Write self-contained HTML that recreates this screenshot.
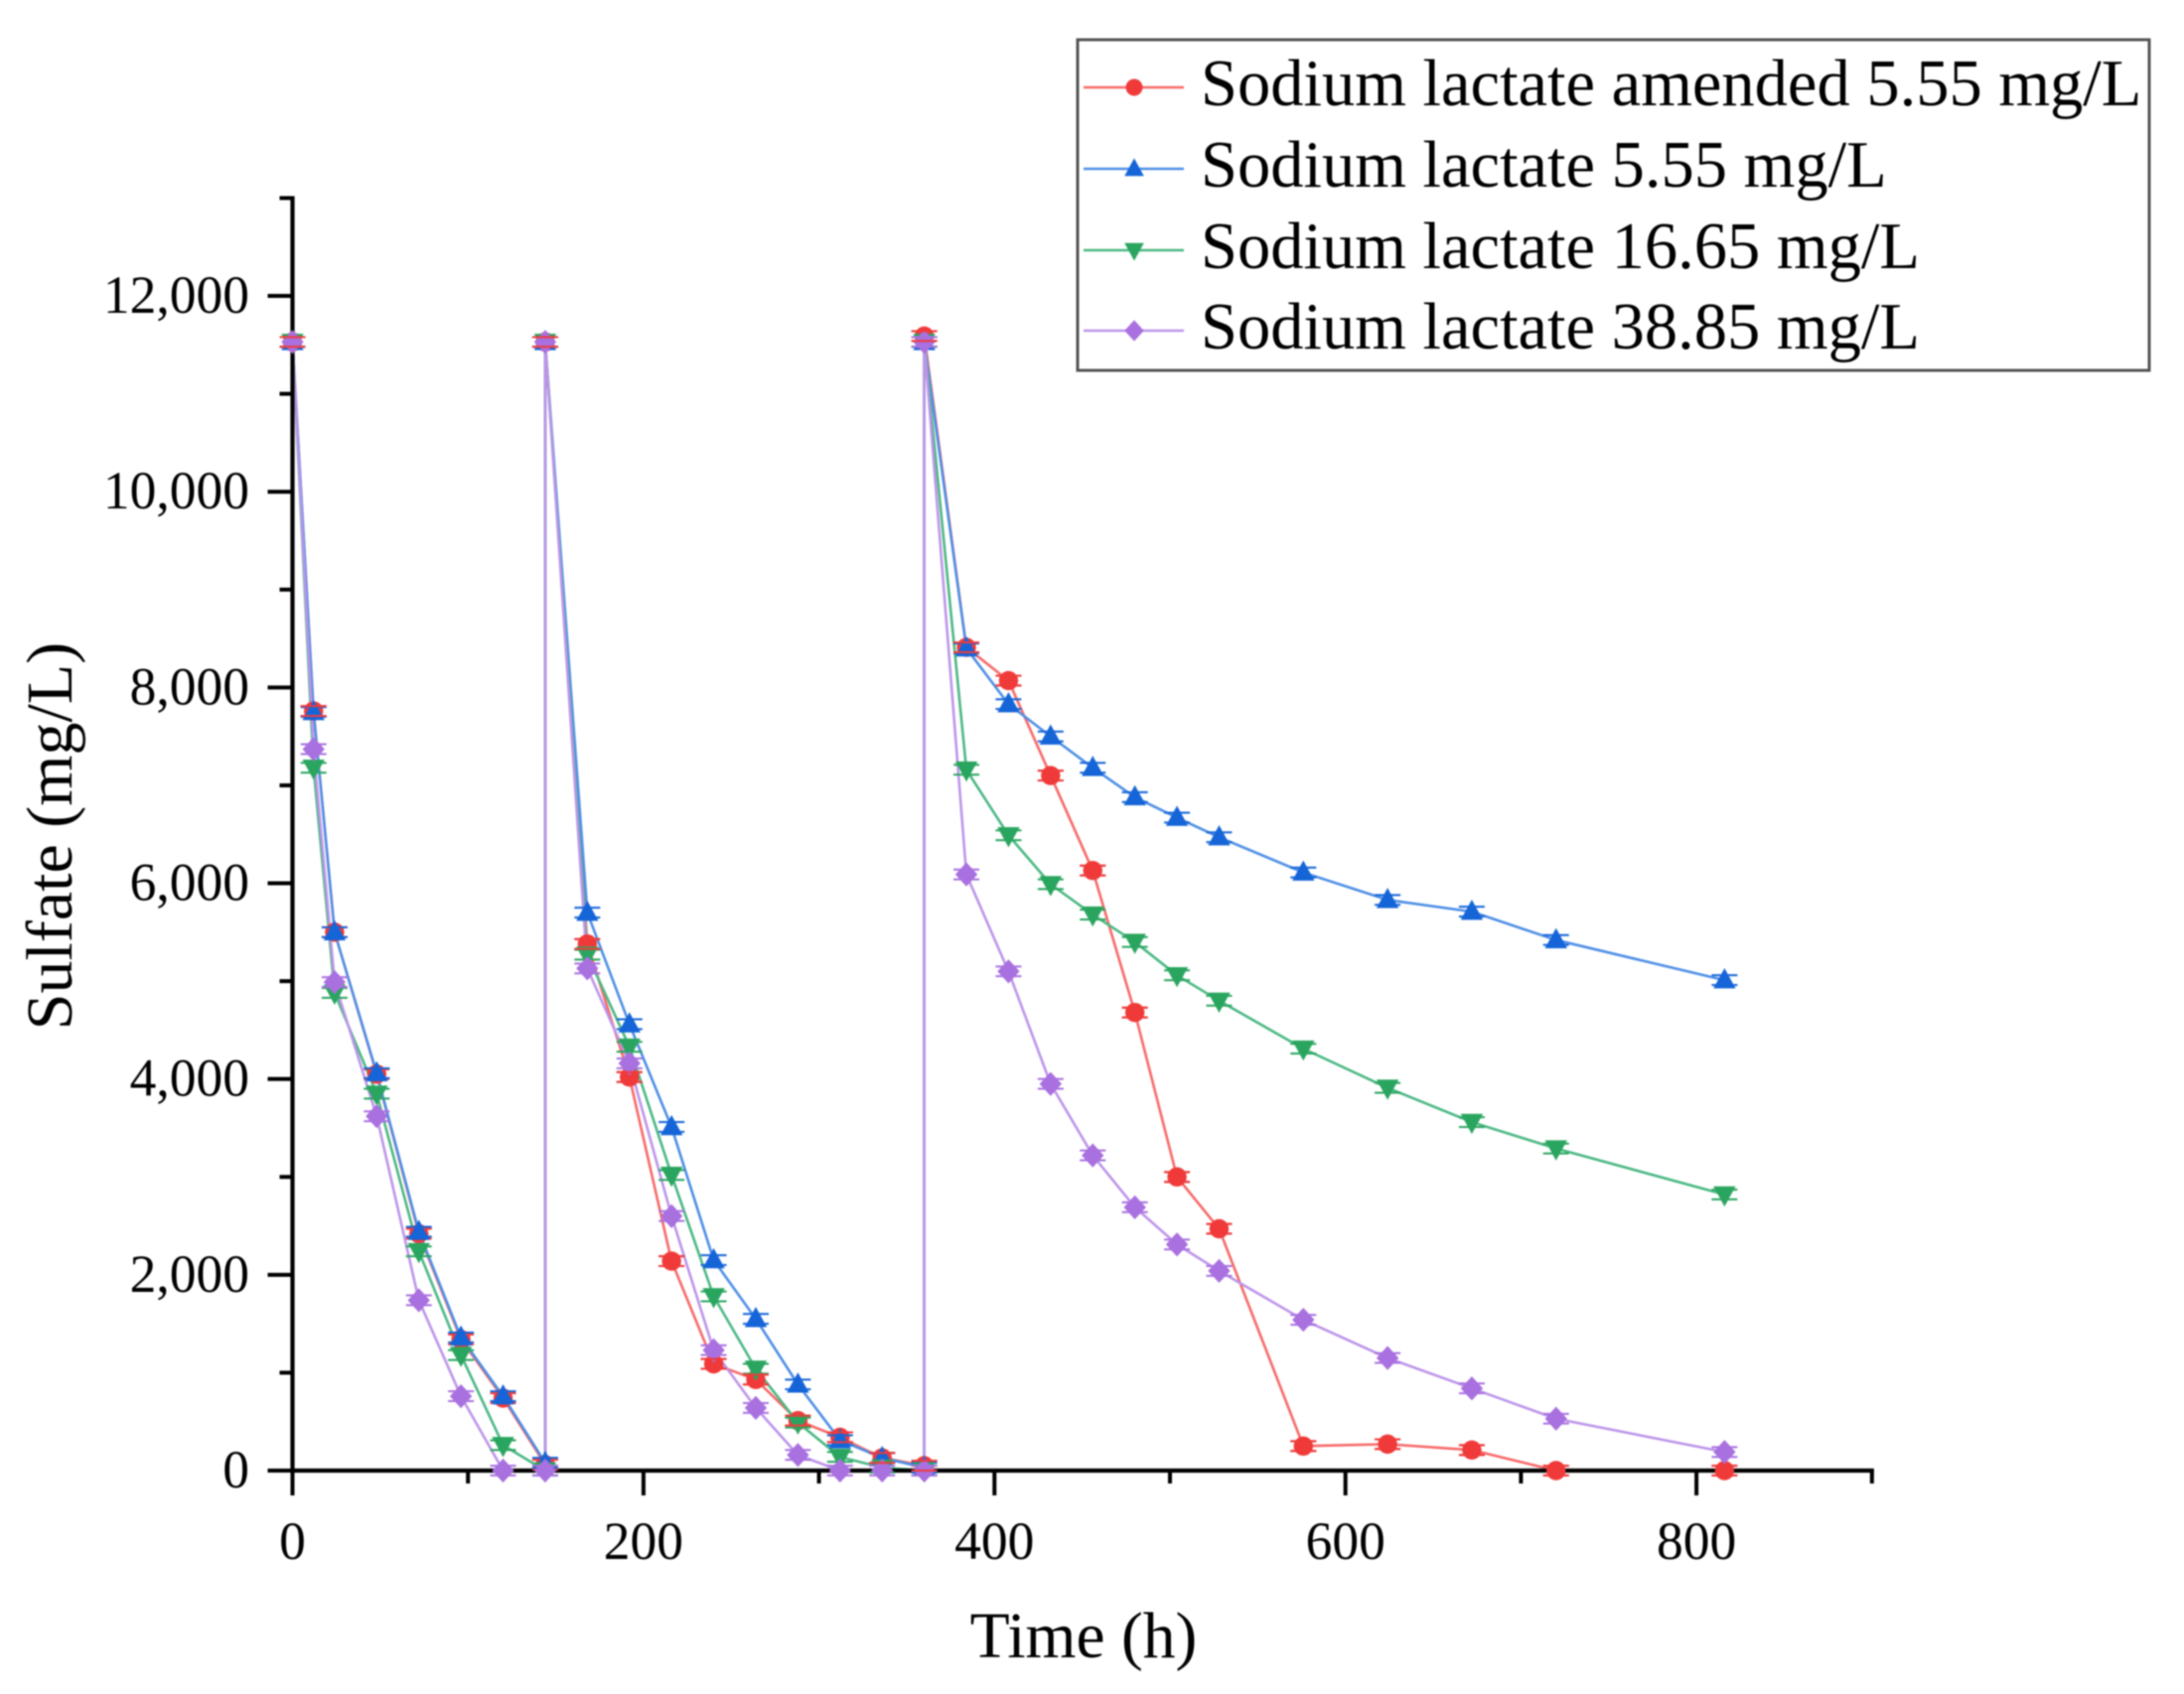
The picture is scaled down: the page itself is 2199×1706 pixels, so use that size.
<!DOCTYPE html>
<html lang="en">
<head>
<meta charset="utf-8">
<title>Sulfate vs Time</title>
<style>
html,body{margin:0;padding:0;background:#fff;width:2199px;height:1706px;overflow:hidden}
svg{display:block;filter:blur(0.7px)}
text{font-family:"Liberation Serif",serif;fill:#000}
</style>
</head>
<body>
<svg id="chart" xmlns="http://www.w3.org/2000/svg" width="2199" height="1706" viewBox="0 0 2199 1706">
  <rect x="0" y="0" width="2199" height="1706" fill="#fff"/>
  <g id="series-layer"></g>
  <g id="axes-layer"></g>
  <g id="markers-layer"></g>
  <text x="1091" y="1669" font-size="65.5" text-anchor="middle">Time (h)</text>
  <text transform="translate(72,842) rotate(-90)" font-size="66" text-anchor="middle">Sulfate (mg/L)</text>
  <g id="legend">
    <rect x="1085" y="40" width="1079" height="333" fill="#fff" stroke="#555" stroke-width="3"/>
  </g>
</svg>
<script>
const timesH = [0,12,24,48,72,96,120,144,144,168,192,216,240,264,288,312,336,360,360,384,408,432,456,480,504,528,576,624,672,720,816];
const amended555 = [11530,7760,5500,4050,2420,1340,740,60,11530,5380,4020,2140,1090,930,510,340,130,50,11590,8410,8070,7100,6130,4680,3000,2470,250,270,210,0,0];
const lactate555 = [11530,7750,5500,4060,2440,1360,760,80,11530,5700,4560,3510,2150,1550,880,310,130,30,11530,8400,7830,7500,7180,6880,6670,6470,6110,5830,5710,5420,5010];
const lactate1665 = [11530,7180,4880,3850,2240,1180,260,0,11530,5270,4330,3020,1780,1040,490,140,30,0,11530,7160,6490,5990,5680,5400,5060,4800,4310,3910,3560,3290,2820];
const lactate3885 = [11530,7370,4990,3620,1740,760,0,0,11530,5130,4160,2600,1230,640,160,0,0,0,11530,6090,5100,3950,3220,2690,2310,2040,1540,1150,840,530,190];
const errorBand = 50;
const xTickValues = [0,100,200,300,400,500,600,700,800,900];
const xTickLabels = ["0","","200","","400","","600","","800",""];
const yTickValues = [0,1000,2000,3000,4000,5000,6000,7000,8000,9000,10000,11000,12000,13000];
const yTickLabels = ["0","","2,000","","4,000","","6,000","","8,000","","10,000","","12,000",""];
const seriesNames = ["Sodium lactate amended 5.55 mg/L","Sodium lactate 5.55 mg/L","Sodium lactate 16.65 mg/L","Sodium lactate 38.85 mg/L"];

const NS = "http://www.w3.org/2000/svg";
const sx = v => 294.5 + 1.767 * v;
const sy = v => 1481 - 0.09858 * v;
const styles = [
  {line:"#f76a6a", fill:"#f03a3a", shape:"circle", key:"amended"},
  {line:"#4f8fe6", fill:"#1565d8", shape:"up", key:"lactate-5-55"},
  {line:"#4cb884", fill:"#2aa55f", shape:"down", key:"lactate-16-65"},
  {line:"#bd95ea", fill:"#a970e0", shape:"diamond", key:"lactate-38-85"}
];
const seriesValues = [amended555, lactate555, lactate1665, lactate3885];

function mk(tag, attrs, parent){
  const el = document.createElementNS(NS, tag);
  for (const k in attrs) el.setAttribute(k, attrs[k]);
  parent.appendChild(el);
  return el;
}
function drawMarker(shape, fill, cx, cy, parent, r){
  if (shape === "circle") return mk("circle", {cx:cx, cy:cy, r:r, fill:fill}, parent);
  let pts;
  if (shape === "up") pts = [[cx,cy-r*1.25],[cx+r*1.15,cy+r*0.85],[cx-r*1.15,cy+r*0.85]];
  if (shape === "down") pts = [[cx,cy+r*1.25],[cx+r*1.15,cy-r*0.85],[cx-r*1.15,cy-r*0.85]];
  if (shape === "diamond") pts = [[cx,cy-r*1.25],[cx+r*1.15,cy],[cx,cy+r*1.25],[cx-r*1.15,cy]];
  return mk("polygon", {points:pts.map(p => p.join(",")).join(" "), fill:fill}, parent);
}
function drawCaps(key, color, cx, v, parent){
  [errorBand, -errorBand].forEach(e => {
    const c = mk("line", {x1:cx-13, x2:cx+13, y1:sy(v+e), y2:sy(v+e), stroke:color, "stroke-width":2}, parent);
    
    
  });
}

const seriesLayer = document.getElementById("series-layer");
const axesLayer = document.getElementById("axes-layer");
const markersLayer = document.getElementById("markers-layer");
const legend = document.getElementById("legend");

seriesValues.forEach((vals, s) => {
  const st = styles[s];
  const line = mk("polyline", {
    points: vals.map((v, i) => sx(timesH[i]) + "," + sy(v)).join(" "),
    fill: "none", stroke: st.line, "stroke-width": 2.6, "stroke-linejoin": "round"
  }, seriesLayer);
  
  
});

/* axes */
const xAxis = mk("line", {x1:sx(0)-2, x2:sx(900)+2, y1:sy(0), y2:sy(0), stroke:"#000", "stroke-width":4.2}, axesLayer);


const yAxis = mk("line", {x1:sx(0), x2:sx(0), y1:sy(13000)-2, y2:sy(0)+2, stroke:"#000", "stroke-width":4.2}, axesLayer);



xTickValues.forEach((v, i) => {
  const major = xTickLabels[i] !== "";
  const t = mk("line", {x1:sx(v), x2:sx(v), y1:sy(0), y2:sy(0) + (major ? 25 : 13), stroke:"#000", "stroke-width":4}, axesLayer);
  
  
  if (major) {
    const lb = mk("text", {x:sx(v), y:1570, "font-size":53.5, "text-anchor":"middle"}, axesLayer);
    lb.textContent = xTickLabels[i];
    
    
  }
});
yTickValues.forEach((v, i) => {
  const major = yTickLabels[i] !== "";
  const t = mk("line", {x1:sx(0) - (major ? 25 : 13), x2:sx(0), y1:sy(v), y2:sy(v), stroke:"#000", "stroke-width":4}, axesLayer);
  
  
  if (major) {
    const lb = mk("text", {x:251, y:sy(v) + 17, "font-size":53.5, "text-anchor":"end"}, axesLayer);
    lb.textContent = yTickLabels[i];
    
    
  }
});

/* markers and error caps */
seriesValues.forEach((vals, s) => {
  const st = styles[s];
  const g = mk("g", {}, markersLayer);
  
  
  vals.forEach((v, i) => {
    const cx = sx(timesH[i]);
    const m = drawMarker(st.shape, st.fill, cx, sy(v), g, 9.7);
    
    
    drawCaps(st.key, st.fill, cx, v, g);
  });
});

/* the amended series' error caps sit above the other series except during the first decay tail */
const redCapsOnTop = mk("g", {}, markersLayer);


amended555.forEach((v, i) => {
  if (i < 2 || i > 7) drawCaps(styles[0].key, styles[0].fill, sx(timesH[i]), v, redCapsOnTop);
});

/* legend */
const legendRowY = [88, 170, 252, 333];
seriesNames.forEach((name, s) => {
  const st = styles[s];
  const y = legendRowY[s];
  const g = mk("g", {}, legend);
  
  
  const l = mk("line", {x1:1091, x2:1192, y1:y, y2:y, stroke:st.line, "stroke-width":2.6}, g);
  
  
  const m = drawMarker(st.shape, st.fill, 1142, y, g, 8.5);
  
  
  const t = mk("text", {x:1209, y:y + 18, "font-size":66.5}, g);
  t.textContent = name;
  
  
});
</script>
</body>
</html>
